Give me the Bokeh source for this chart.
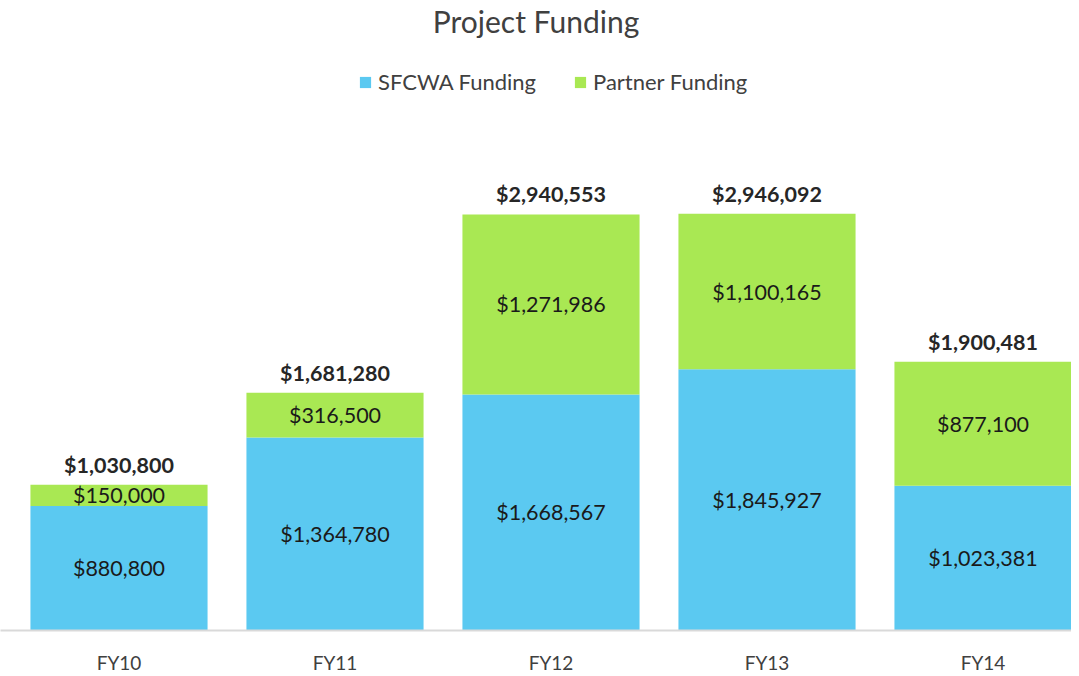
from bokeh.plotting import figure
from bokeh.models import ColumnDataSource, Range1d
from bokeh.core.properties import value
from bokeh.embed import file_html
from bokeh.resources import INLINE

categories = ["FY10", "FY11", "FY12", "FY13", "FY14"]
sfcwa = [880800, 1364780, 1668567, 1845927, 1023381]
partner = [150000, 316500, 1271986, 1100165, 877100]
totals = [1030800, 1681280, 2940553, 2946092, 1900481]

FONT = "Lato"
BLUE = "#5BC9F1"
GREEN = "#A9E853"

xs = list(range(len(categories)))
fmt = lambda v: "${:,}".format(v)

src = ColumnDataSource(dict(
    x=xs, cat=categories, sfcwa=sfcwa, partner=partner, total=totals,
    sfcwa_mid=[s / 2 for s in sfcwa],
    partner_mid=[s + p / 2 for s, p in zip(sfcwa, partner)],
    sfcwa_lbl=[fmt(v) for v in sfcwa],
    partner_lbl=[fmt(v) for v in partner],
    total_lbl=[fmt(v) for v in totals],
))

FH = 592
x0 = -0.5486
p = figure(frame_width=1071, frame_height=FH, output_backend="svg",
           toolbar_location=None, x_range=Range1d(x0, x0 + 1071 / 216),
           y_range=Range1d(0, FH / 1.4147e-4),
           min_border_left=0, min_border_right=0, min_border_top=0,
           min_border_bottom=38, title="Project Funding")

p.vbar_stack(["sfcwa", "partner"], x="x", width=0.82, source=src,
             color=[BLUE, GREEN], line_color=None,
             legend_label=["SFCWA Funding", "Partner Funding"])

common = dict(text_font=value(FONT), text_font_size="21.5px",
              text_align="center", text_baseline="middle")
p.text(x="x", y="sfcwa_mid", text="sfcwa_lbl", source=src,
       text_color="#1a1a1a", **common)
p.text(x="x", y="partner_mid", text="partner_lbl", source=src,
       text_color="#1a1a1a", **common)
p.text(x="x", y="total", text="total_lbl", source=src, y_offset=-20,
       text_color="#262626", text_font_style="bold", **common)

p.title.align = "center"
p.title.text_font = FONT
p.title.text_font_size = "30px"
p.title.text_font_style = "normal"
p.title.text_color = "#404040"
p.title.standoff = 0
p.title.text_line_height = 0.75

p.yaxis.visible = False
p.xgrid.visible = False
p.ygrid.visible = False
p.outline_line_color = None

p.xaxis.ticker = xs
p.xaxis.major_label_overrides = {i: c for i, c in enumerate(categories)}
p.xaxis.major_tick_line_color = None
p.xaxis.minor_tick_line_color = None
p.xaxis.axis_line_color = "#D9D9D9"
p.xaxis.axis_line_width = 2
p.xaxis.major_label_standoff = 14
p.xaxis.major_label_text_font = FONT
p.xaxis.major_label_text_font_size = "19px"
p.xaxis.major_label_text_color = "#404040"

lg = p.legend[0]
lg.location = (358, FH - 30 - 27)
lg.orientation = "horizontal"
lg.border_line_color = None
lg.background_fill_alpha = 0
lg.label_text_font = FONT
lg.label_text_font_size = "22px"
lg.label_text_color = "#404040"
lg.glyph_width = 14
lg.glyph_height = 14
lg.label_standoff = 6
lg.spacing = 37
lg.padding = 0
lg.margin = 0

open("out.html", "w").write(file_html(p, INLINE))
